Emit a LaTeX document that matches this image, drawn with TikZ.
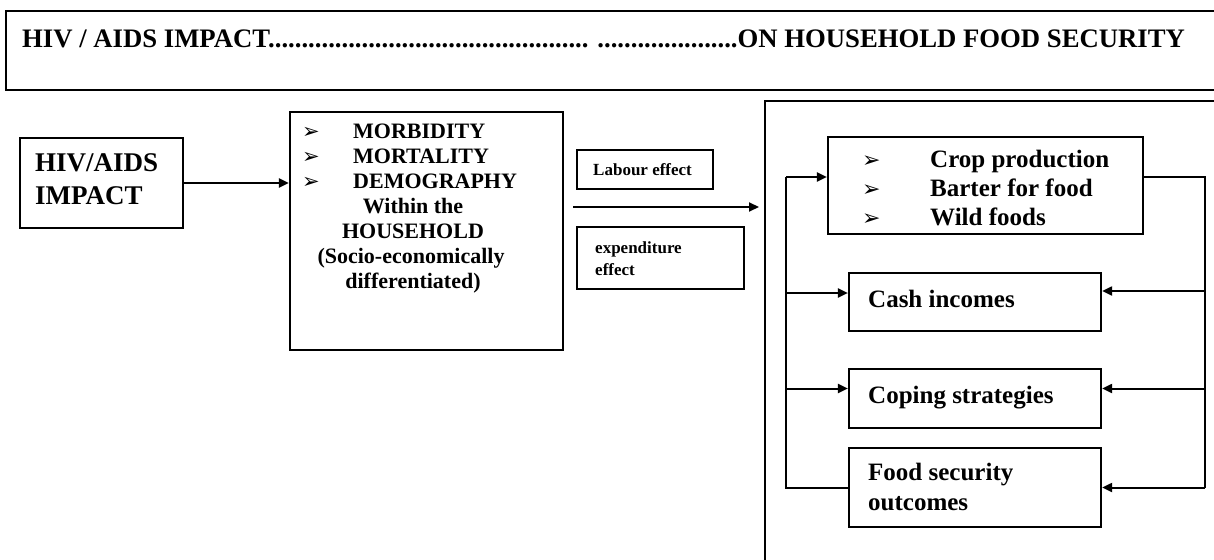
\documentclass[tikz,border=0pt]{standalone}
\usepackage{fontspec}
\setmainfont{Liberation Serif}
\newfontfamily\symf{DejaVu Sans}
\usetikzlibrary{arrows.meta,fit}
\begin{document}
\begin{tikzpicture}[x=1pt,y=-1pt,
  box/.style={draw, line width=2.2pt, inner sep=0pt},
  ln/.style={line width=2pt},
  arr/.style={line width=2pt, -{Triangle[length=10pt,width=9pt]}},
  txt/.style={inner sep=0pt, anchor=base west},
  ctxt/.style={inner sep=0pt, anchor=base},
  big/.style={font=\bfseries\fontsize{25}{30}\selectfont},
  mid/.style={font=\bfseries\fontsize{22}{25}\selectfont},
  small/.style={font=\bfseries\fontsize{17}{20}\selectfont},
  bul/.style={inner sep=0pt, anchor=base west, font=\symf\bfseries\fontsize{21}{22}\selectfont}]
\useasboundingbox (0,0) rectangle (1214,559);
\fill[white] (0,0) rectangle (1214,559);

% title
\node[box, fit={(6,11) (1225,90)}] (title) {};
\node[txt, font=\bfseries\fontsize{26.7}{30}\selectfont] (titletext) at (22,48) {HIV / AIDS IMPACT................................................ .....................ON HOUSEHOLD FOOD SECURITY};

% HIV box
\node[box, fit={(20,138) (183,228)}] (hiv) {};
\node[txt, font=\bfseries\fontsize{27}{30}\selectfont] (hiv1) at (35,171) {HIV/AIDS};
\node[txt, font=\bfseries\fontsize{27}{30}\selectfont] (hiv2) at (35,204) {IMPACT};

% middle box
\node[box, fit={(290,112) (563,350)}] (midbox) {};
\node[bul] (b1) at (302,138) {➢};
\node[bul] (b2) at (302,163) {➢};
\node[bul] (b3) at (302,188) {➢};
\node[txt, mid] (m1) at (353,138) {MORBIDITY};
\node[txt, mid] (m2) at (353,163) {MORTALITY};
\node[txt, mid] (m3) at (353,188) {DEMOGRAPHY};
\node[ctxt, mid] (m4) at (413,213) {Within the};
\node[ctxt, mid] (m5) at (413,238) {HOUSEHOLD};
\node[ctxt, mid] (m6) at (411,263) {(Socio-economically};
\node[ctxt, mid] (m7) at (413,288) {differentiated)};

% effect boxes
\node[box, fit={(577,150) (713,189)}] (labour) {};
\node[txt, small] (labourtext) at (593,175) {Labour effect};
\node[box, fit={(577,227) (744,289)}] (expend) {};
\node[txt, small] (exp1) at (595,253) {expenditure};
\node[txt, small] (exp2) at (595,275) {effect};

% big right box
\node[box, fit={(765,101) (1225,570)}] (right) {};

\node[box, fit={(828,137) (1143,234)}] (crop) {};
\node[bul, font=\symf\bfseries\fontsize{22}{22}\selectfont] (c1b) at (862,167) {➢};
\node[bul, font=\symf\bfseries\fontsize{22}{22}\selectfont] (c2b) at (862,196) {➢};
\node[bul, font=\symf\bfseries\fontsize{22}{22}\selectfont] (c3b) at (862,225) {➢};
\node[txt, big] (c1) at (930,167) {Crop production};
\node[txt, big] (c2) at (930,196) {Barter for food};
\node[txt, big] (c3) at (930,225) {Wild foods};

\node[box, fit={(849,273) (1101,331)}] (cash) {};
\node[txt, big] (casht) at (868,307) {Cash incomes};
\node[box, fit={(849,369) (1101,428)}] (coping) {};
\node[txt, big] (copingt) at (868,403) {Coping strategies};
\node[box, fit={(849,448) (1101,527)}] (food) {};
\node[txt, big] (food1) at (868,480) {Food security};
\node[txt, big] (food2) at (868,510) {outcomes};

% connectors
\draw[arr] (hiv.east) -- (midbox.west |- hiv.east);
\coordinate (a1) at (573,207);
\coordinate (a2) at (759,207);
\draw[arr] (a1) -- (a2);

\coordinate (Ltop) at (786,177);
\coordinate (Rbot) at (1205,487.5);
\coordinate (cashW) at ([yshift=9pt]cash.west);
\coordinate (copW) at ([yshift=10pt]coping.west);
\coordinate (cashE) at ([yshift=11pt]cash.east);
\coordinate (copE) at ([yshift=10pt]coping.east);
\coordinate (cropE) at ([yshift=8.5pt]crop.east);
\draw[ln] (food.west) -| (Ltop);
\draw[arr] (Ltop) -- (Ltop -| crop.west);
\draw[arr] (Ltop |- cashW) -- (cashW);
\draw[arr] (Ltop |- copW) -- (copW);

\draw[ln] (cropE) -| (Rbot);
\draw[arr] (Rbot |- cashE) -- (cashE);
\draw[arr] (Rbot |- copE) -- (copE);
\draw[arr] (Rbot) -- (food.east);
\end{tikzpicture}
\end{document}
